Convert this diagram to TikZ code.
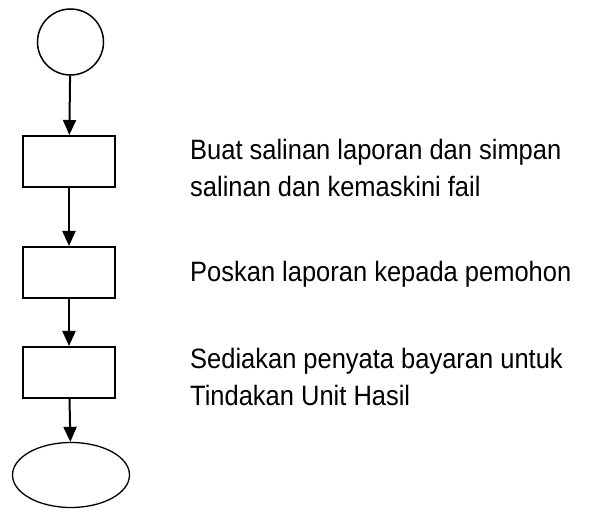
\documentclass[tikz,border=0pt]{standalone}
\usepackage{fontspec}
\setmainfont[FakeStretch=0.91]{Liberation Sans}
\usetikzlibrary{arrows.meta,shapes.geometric}

\begin{document}
\begin{tikzpicture}[x=1pt,y=-1pt,
  stepbox/.style={draw, line width=2pt, minimum width=92pt, minimum height=51pt, inner sep=0pt},
  flow/.style={line width=2pt, -{Triangle[length=15pt,width=13pt]}},
  note/.style={anchor=base west, align=left, inner sep=0pt, font=\fontsize{28}{36.5}\selectfont}]
\useasboundingbox (0,0) rectangle (589,510);

\node [draw, circle, line width=1.5pt, minimum size=66pt, inner sep=0pt] (start) at (70.5,42) {};
\node [stepbox] (salin) at (69,161.5) {};
\node [stepbox] (poskan) at (69,272.5) {};
\node [stepbox] (penyata) at (69,372.5) {};
\node [draw, ellipse, line width=1.3pt, minimum width=117pt, minimum height=65pt, inner sep=0pt] (stop) at (71,475) {};

\foreach \a/\b in {start/salin, salin/poskan, poskan/penyata, penyata/stop}
  \draw [flow] (\a) -- (\b);

% base anchor sits on the last line
\node [note] (t-salin) at (190,196.5) {Buat salinan laporan dan simpan\\salinan dan kemaskini fail};
\node [note] (t-poskan) at (190,282) {Poskan laporan kepada pemohon};
\node [note] (t-penyata) at (190,405.5) {Sediakan penyata bayaran untuk\\Tindakan Unit Hasil};

\end{tikzpicture}
\end{document}
